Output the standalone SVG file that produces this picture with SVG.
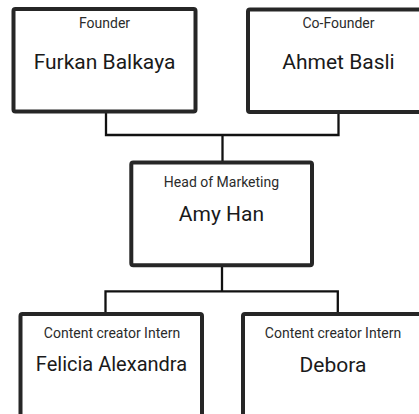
<svg xmlns="http://www.w3.org/2000/svg" width="419" height="414" viewBox="0 0 419 414">
  <style>
    .box { fill: #ffffff; stroke: #262626; stroke-width: 4; }
    .conn { fill: none; stroke: #111111; stroke-width: 2.3; }
    .role { font-family: Roboto, "Liberation Sans", sans-serif; font-size: 14px; fill: #2b2b2b; text-anchor: middle; }
    .name { font-family: Roboto, "Liberation Sans", sans-serif; font-size: 21px; fill: #1a1a1a; text-anchor: middle; }
  </style>
  <rect width="419" height="414" fill="#ffffff"/>
  <g id="connectors">
    <path class="conn" d="M106,111.5 V135 H338.5 V112"/>
    <path class="conn" d="M222.5,135 V162.5"/>
    <path class="conn" d="M222,265.3 V291.3"/>
    <path class="conn" d="M105.5,314 V291.3 H337.8 V314"/>
  </g>
  <g id="founder">
    <rect class="box" x="13.5" y="9" width="182" height="102.5" rx="2"/>
    <text class="role" x="104.5" y="28.3">Founder</text>
    <text class="name" x="104.5" y="69">Furkan Balkaya</text>
  </g>
  <g id="cofounder">
    <rect class="box" x="248" y="9.5" width="182" height="102.5" rx="2"/>
    <text class="role" x="338.5" y="28.3">Co-Founder</text>
    <text class="name" x="338.5" y="68.5">Ahmet Basli</text>
  </g>
  <g id="head">
    <rect class="box" x="131.3" y="162.5" width="180.7" height="102.8" rx="2"/>
    <text class="role" x="221.5" y="187.3">Head of Marketing</text>
    <text class="name" x="221.5" y="221">Amy Han</text>
  </g>
  <g id="intern1">
    <rect class="box" x="20.5" y="314" width="181.5" height="110" rx="2"/>
    <text class="role" x="112" y="338.2">Content creator Intern</text>
    <text class="name" x="111.5" y="371" style="font-size:20px">Felicia Alexandra</text>
  </g>
  <g id="intern2">
    <rect class="box" x="243" y="314" width="181" height="110" rx="2"/>
    <text class="role" x="333" y="338.3">Content creator Intern</text>
    <text class="name" x="333" y="371.5">Debora</text>
  </g>
</svg>
